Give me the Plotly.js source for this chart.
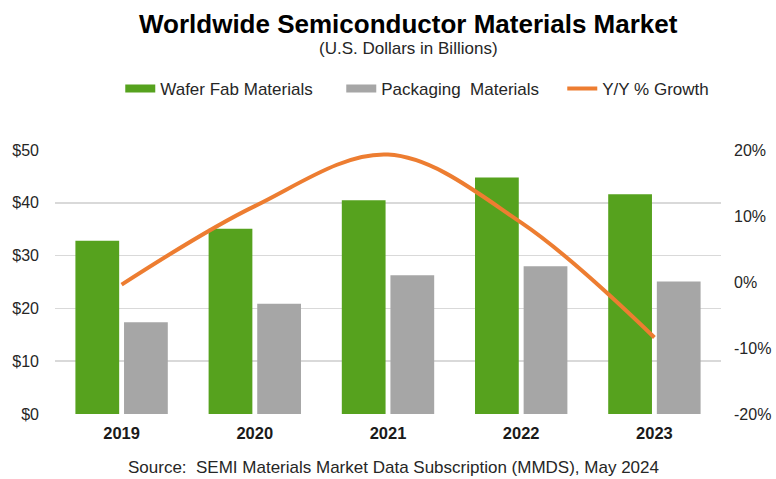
<!DOCTYPE html>
<html>
<head>
<meta charset="utf-8">
<script src="https://cdn.plot.ly/plotly-3.0.1.min.js"></script>
<style>html,body{margin:0;padding:0;background:#fff;}#chart{width:776px;height:479px;}</style>
</head>
<body>
<div id="chart"></div>
<script>
const years = ['2019', '2020', '2021', '2022', '2023'];
const waferFab = [32.8, 35.1, 40.5, 44.8, 41.6];
const packaging = [17.4, 20.9, 26.3, 28.0, 25.1];
const growth = [-0.4, 11.5, 19.3, 9.0, -8.4];
const leftTicks = [0, 10, 20, 30, 40, 50];
const rightTicks = [-20, -10, 0, 10, 20];

const GREEN = '#56A21E', GRAY = '#A6A6A6', ORANGE = '#ED7D31';
const FONT = 'Liberation Sans, Arial, sans-serif';

const traces = [
  {type: 'bar', x: years, y: waferFab, name: 'Wafer Fab Materials', marker: {color: GREEN}, showlegend: false, hoverinfo: 'skip'},
  {type: 'bar', x: years, y: packaging, name: 'Packaging  Materials', marker: {color: GRAY}, showlegend: false, hoverinfo: 'skip'},
  {type: 'scatter', mode: 'lines', x: years, y: growth, yaxis: 'y2', name: 'Y/Y % Growth', line: {color: ORANGE, width: 4, shape: 'spline', smoothing: 1}, showlegend: false},
  {type: 'scatter', mode: 'lines', x: [null], y: [null], name: 'Wafer Fab Materials', legendwidth: 176, line: {color: GREEN, width: 8}},
  {type: 'scatter', mode: 'lines', x: [null], y: [null], name: 'Packaging  Materials', legendwidth: 176, line: {color: GRAY, width: 8}},
  {type: 'scatter', mode: 'lines', x: [null], y: [null], name: 'Y/Y % Growth', legendwidth: 108, line: {color: ORANGE, width: 4}}
];

const layout = {
  width: 776, height: 479,
  margin: {l: 55, r: 55, t: 150, b: 65},
  paper_bgcolor: '#fff', plot_bgcolor: '#fff',
  font: {family: FONT, color: '#262626', size: 16},
  barmode: 'group', bargap: 0.27, bargroupgap: 0.1,
  showlegend: true,
  legend: {orientation: 'h', x: 0.098, xanchor: 'left', y: 1.231, yanchor: 'middle', font: {size: 17, color: '#262626'}, bgcolor: 'rgba(0,0,0,0)'},
  xaxis: {type: 'category', categoryorder: 'array', categoryarray: years, tickfont: {size: 16.5, color: '#1a1a1a', family: FONT, weight: 'bold'}, showline: false, showgrid: false, ticks: '', ticklabelstandoff: 7, fixedrange: true},
  yaxis: {range: [0, 50], tickvals: leftTicks, ticktext: leftTicks.map(v => '$' + v), showgrid: true, gridcolor: '#d9d9d9', gridwidth: 1.5, zeroline: false, showline: false, ticks: '', ticklabelstandoff: 15, tickfont: {size: 16, color: '#262626'}, fixedrange: true},
  yaxis2: {overlaying: 'y', side: 'right', range: [-20, 20], tickvals: rightTicks, ticktext: rightTicks.map(v => v + '%'), showgrid: false, zeroline: false, showline: false, ticks: '', ticklabelstandoff: 12, tickfont: {size: 16, color: '#262626'}, fixedrange: true},
  annotations: [
    {xref: 'paper', yref: 'paper', x: 0.531, y: 1.477, xanchor: 'center', yanchor: 'middle', showarrow: false, text: '<b>Worldwide Semiconductor Materials Market</b>', font: {size: 26, color: '#000', family: FONT}},
    {xref: 'paper', yref: 'paper', x: 0.531, y: 1.383, xanchor: 'center', yanchor: 'middle', showarrow: false, text: '(U.S. Dollars in Billions)', font: {size: 17, color: '#262626', family: FONT}},
    {xref: 'paper', yref: 'paper', x: 0.508, y: -0.2008, xanchor: 'center', yanchor: 'middle', showarrow: false, text: 'Source:  SEMI Materials Market Data Subscription (MMDS), May 2024', font: {size: 17, color: '#262626', family: FONT}}
  ]
};

Plotly.newPlot('chart', traces, layout, {displayModeBar: false, staticPlot: true});
</script>
</body>
</html>
